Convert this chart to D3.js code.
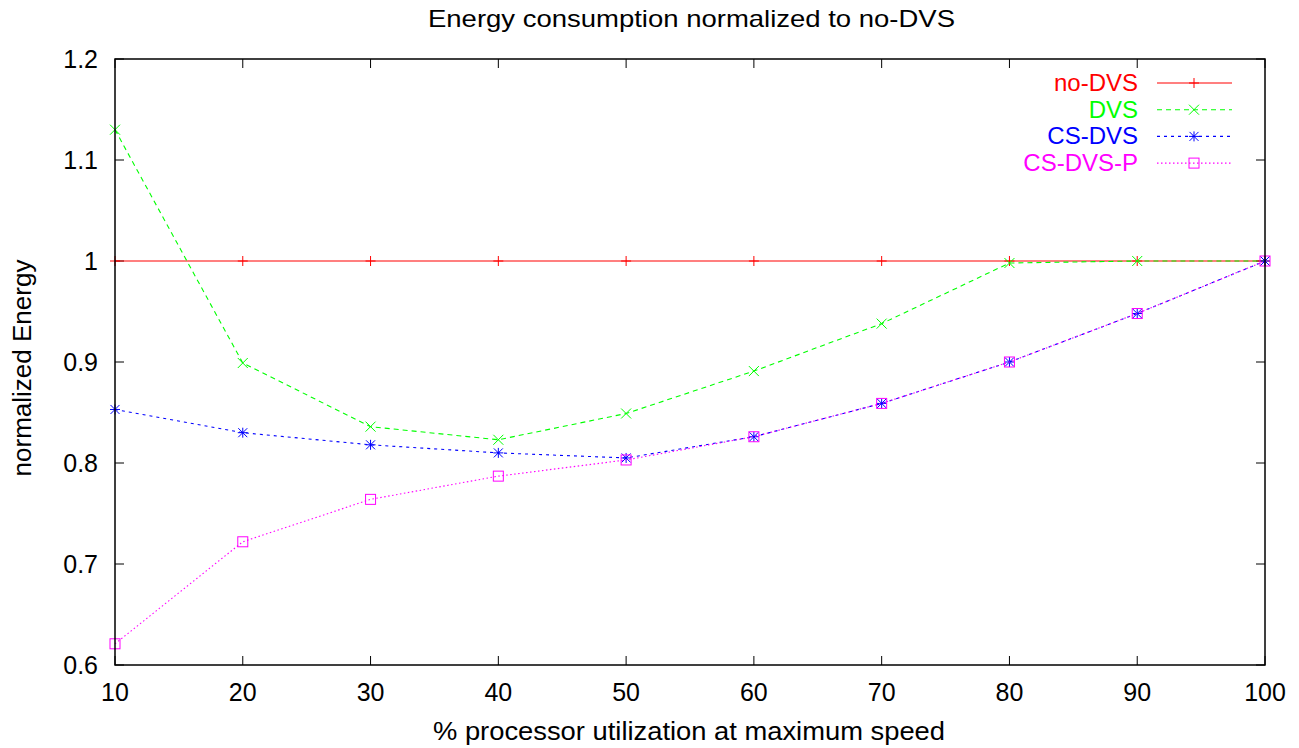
<!DOCTYPE html>
<html>
<head>
<meta charset="utf-8">
<script src="https://cdn.jsdelivr.net/npm/d3@7"></script>
<style>
  body { margin: 0; background: #fff; }
  text { font-family: "Liberation Sans", Arial, sans-serif; }
</style>
</head>
<body>
<script>
// utilization levels (x) and normalized energy per scheme
var utilization = [10, 20, 30, 40, 50, 60, 70, 80, 90, 100];
var noDVS    = [1, 1, 1, 1, 1, 1, 1, 1, 1, 1];
var dvs      = [1.130, 0.899, 0.836, 0.823, 0.849, 0.891, 0.938, 0.998, 1.0, 1.0];
var csDVS    = [0.853, 0.830, 0.818, 0.810, 0.805, 0.826, 0.859, 0.900, 0.948, 1.0];
var csDVSP   = [0.621, 0.722, 0.764, 0.787, 0.803, 0.826, 0.859, 0.900, 0.948, 1.0];
var seriesNames = ["no-DVS", "DVS", "CS-DVS", "CS-DVS-P"];
var xTicks = [10, 20, 30, 40, 50, 60, 70, 80, 90, 100];
var yTicks = [0.6, 0.7, 0.8, 0.9, 1, 1.1, 1.2];

var W = 1299, H = 748;
var plotLeft = 115, plotRight = 1265, plotTop = 59, plotBottom = 665;

var svg = d3.select("body").append("svg")
    .attr("width", W).attr("height", H);

var x = d3.scaleLinear().domain([10, 100]).range([plotLeft, plotRight]);
var y = d3.scaleLinear().domain([0.6, 1.2]).range([plotBottom, plotTop]);

// series styling
var series = [
  { name: seriesNames[0], values: noDVS,  color: "#ff0000", dash: null,      marker: "plus" },
  { name: seriesNames[1], values: dvs,    color: "#00ff00", dash: "5,4",     marker: "cross" },
  { name: seriesNames[2], values: csDVS,  color: "#0000ff", dash: "3,4",     marker: "star" },
  { name: seriesNames[3], values: csDVSP, color: "#ff00ff", dash: "1.5,2.5", marker: "box" }
];

// ticks, inside on all four sides (gnuplot style)
var tl = 9;
var axes = svg.append("g").attr("stroke", "#000").attr("stroke-width", 1);
xTicks.forEach(function (t) {
  axes.append("line").attr("x1", x(t)).attr("x2", x(t)).attr("y1", plotBottom).attr("y2", plotBottom - tl);
  axes.append("line").attr("x1", x(t)).attr("x2", x(t)).attr("y1", plotTop).attr("y2", plotTop + tl);
});
yTicks.forEach(function (t) {
  axes.append("line").attr("x1", plotLeft).attr("x2", plotLeft + tl).attr("y1", y(t)).attr("y2", y(t));
  axes.append("line").attr("x1", plotRight).attr("x2", plotRight - tl).attr("y1", y(t)).attr("y2", y(t));
});

svg.append("g").selectAll("text").data(xTicks).enter().append("text")
    .attr("x", function (d) { return x(d); })
    .attr("y", 701)
    .attr("text-anchor", "middle")
    .attr("font-size", 25)
    .text(function (d) { return d; });

svg.append("g").selectAll("text").data(yTicks).enter().append("text")
    .attr("x", 98)
    .attr("y", function (d) { return y(d) + 9; })
    .attr("text-anchor", "end")
    .attr("font-size", 25)
    .text(function (d) { return d3.format("")(d); });

// markers
function drawMarker(g, kind, cx, cy, color) {
  var s = 5;
  var m = g.append("g").attr("stroke", color).attr("stroke-width", 1).attr("fill", "none");
  if (kind == "plus" || kind == "star") {
    m.append("line").attr("x1", cx - s).attr("x2", cx + s).attr("y1", cy).attr("y2", cy);
    m.append("line").attr("x1", cx).attr("x2", cx).attr("y1", cy - s).attr("y2", cy + s);
  }
  if (kind == "cross" || kind == "star") {
    var k = (kind == "star") ? 4.5 : 5;
    m.append("line").attr("x1", cx - k).attr("x2", cx + k).attr("y1", cy - k).attr("y2", cy + k);
    m.append("line").attr("x1", cx - k).attr("x2", cx + k).attr("y1", cy + k).attr("y2", cy - k);
  }
  if (kind == "box") {
    m.append("rect").attr("x", cx - 5).attr("y", cy - 5).attr("width", 10).attr("height", 10);
  }
}

var line = d3.line()
    .x(function (d, i) { return x(utilization[i]); })
    .y(function (d) { return y(d); });

series.forEach(function (s) {
  var g = svg.append("g");
  g.append("path")
      .attr("d", line(s.values))
      .attr("fill", "none")
      .attr("stroke", s.color)
      .attr("stroke-width", 1.1)
      .attr("stroke-dasharray", s.dash);
  s.values.forEach(function (v, i) {
    drawMarker(g, s.marker, x(utilization[i]), y(v), s.color);
  });
});

// frame
svg.append("rect")
    .attr("x", plotLeft).attr("y", plotTop)
    .attr("width", plotRight - plotLeft).attr("height", plotBottom - plotTop)
    .attr("fill", "none").attr("stroke", "#000").attr("stroke-width", 1.5);

// legend
var legend = svg.append("g");
series.forEach(function (s, i) {
  var ly = 83 + i * 26.7;
  legend.append("text")
      .attr("x", 1138).attr("y", ly + 8)
      .attr("text-anchor", "end")
      .attr("font-size", 24)
      .attr("fill", s.color)
      .text(s.name);
  legend.append("line")
      .attr("x1", 1157).attr("x2", 1232).attr("y1", ly).attr("y2", ly)
      .attr("stroke", s.color).attr("stroke-width", 1.1)
      .attr("stroke-dasharray", s.dash);
  drawMarker(legend, s.marker, 1194, ly, s.color);
});

// titles
svg.append("text")
    .attr("x", 428).attr("y", 27)
    .attr("font-size", 24)
    .attr("textLength", 527)
    .attr("lengthAdjust", "spacingAndGlyphs")
    .text("Energy consumption normalized to no-DVS");

svg.append("text")
    .attr("x", 433).attr("y", 740)
    .attr("font-size", 26)
    .attr("textLength", 512)
    .attr("lengthAdjust", "spacingAndGlyphs")
    .text("% processor utilization at maximum speed");

svg.append("text")
    .attr("transform", "translate(31," + 368 + ") rotate(-90)")
    .attr("text-anchor", "middle")
    .attr("font-size", 26)
    .text("normalized Energy");
</script>
</body>
</html>
